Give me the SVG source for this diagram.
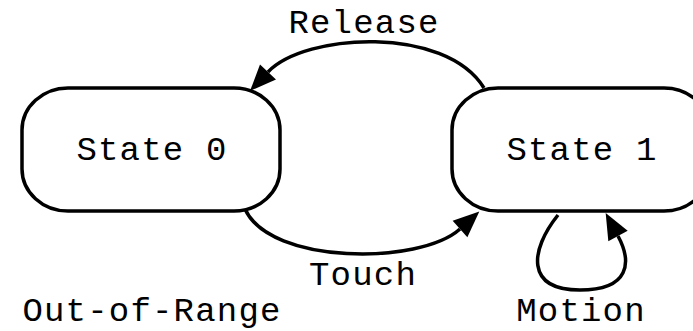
<svg xmlns="http://www.w3.org/2000/svg" width="693" height="331" viewBox="0 0 693 331">
<style>
.box{fill:#fff;stroke:#000;stroke-width:3.5}
.edge{fill:none;stroke:#000;stroke-width:3.5}
text{font-family:"Liberation Mono","Courier New",monospace;font-size:34px;letter-spacing:1.2px;fill:#000;text-anchor:middle}
</style>
<defs>
<marker id="ah" markerUnits="userSpaceOnUse" markerWidth="30" markerHeight="24" refX="0" refY="11" orient="auto" overflow="visible">
<polygon points="0,0 26,11 0,22" fill="#000"/>
</marker>
</defs>
<rect width="693" height="331" fill="#fff"/>
<g id="state0">
<rect class="box" x="22" y="88" width="258" height="123" rx="46" ry="42"/>
<text x="152" y="160">State 0</text>
</g>
<g id="state1">
<rect class="box" x="452" y="88" width="258" height="123" rx="46" ry="42"/>
<text x="582" y="160">State 1</text>
</g>
<g id="connectors">
<path class="edge" d="M484,88 C445,25 305,33 268,72" marker-end="url(#ah)"/>
<path class="edge" d="M245,209 C270,265 420,265 460,229" marker-end="url(#ah)"/>
<path class="edge" d="M558,215 C530,250 525,290 580,290 C630,290 632,262 618,236" marker-end="url(#ah)"/>
</g>
<g id="labels">
<text x="364" y="33">Release</text>
<text x="363" y="285">Touch</text>
<text x="581" y="321">Motion</text>
<text x="152" y="321">Out-of-Range</text>
</g>
</svg>
